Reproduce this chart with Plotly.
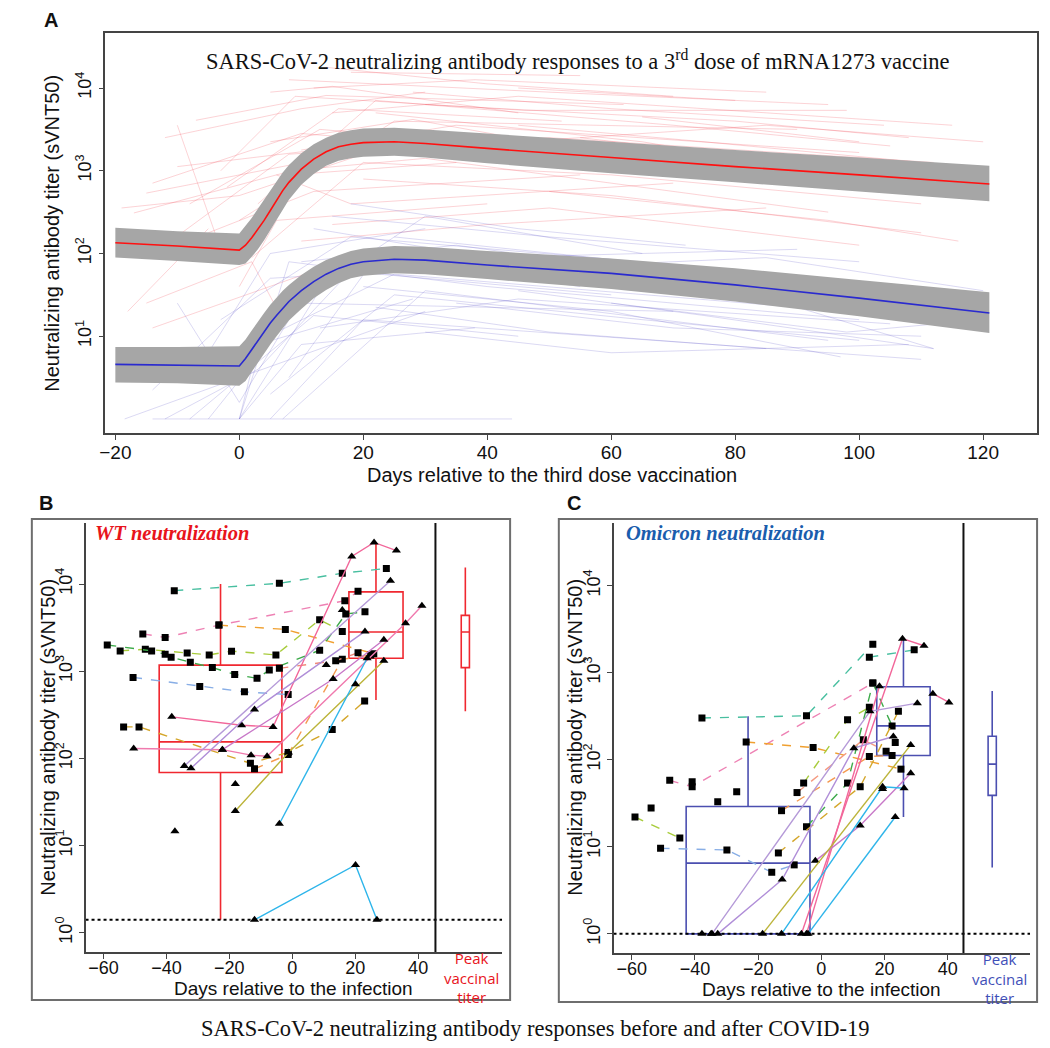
import numpy as np
import plotly.graph_objects as go

W, H = 1050, 1048

# ---------------- Panel A data (log10 titers) ----------------
fit_days = [-20, -10, 0, 1, 2, 3, 4, 5, 6, 7, 8, 10, 12, 14, 16, 18, 20, 25, 30, 40, 60, 80, 100, 121]
wt_fit_log = [2.13, 2.09, 2.04, 2.10, 2.19, 2.29, 2.40, 2.52, 2.64, 2.76, 2.86, 3.02, 3.14, 3.23, 3.29, 3.32, 3.34, 3.35, 3.33, 3.27, 3.16, 3.05, 2.95, 2.84]
wt_hi_log = [2.31, 2.27, 2.24, 2.33, 2.43, 2.54, 2.65, 2.77, 2.88, 2.98, 3.07, 3.21, 3.32, 3.40, 3.46, 3.49, 3.51, 3.52, 3.50, 3.45, 3.35, 3.25, 3.16, 3.06]
wt_lo_log = [1.95, 1.91, 1.86, 1.88, 1.96, 2.05, 2.16, 2.28, 2.40, 2.53, 2.65, 2.83, 2.96, 3.06, 3.12, 3.15, 3.17, 3.18, 3.16, 3.09, 2.97, 2.86, 2.75, 2.63]
om_fit_log = [0.66, 0.65, 0.64, 0.73, 0.84, 0.95, 1.06, 1.16, 1.25, 1.34, 1.42, 1.55, 1.66, 1.75, 1.82, 1.87, 1.90, 1.93, 1.92, 1.86, 1.76, 1.62, 1.46, 1.28]
om_hi_log = [0.87, 0.87, 0.88, 0.96, 1.07, 1.18, 1.28, 1.38, 1.47, 1.55, 1.62, 1.74, 1.84, 1.92, 1.98, 2.03, 2.06, 2.09, 2.08, 2.03, 1.94, 1.82, 1.68, 1.53]
om_lo_log = [0.44, 0.43, 0.40, 0.46, 0.57, 0.68, 0.80, 0.90, 1.00, 1.10, 1.19, 1.33, 1.46, 1.56, 1.64, 1.70, 1.73, 1.76, 1.75, 1.69, 1.57, 1.42, 1.24, 1.04]

# individual trajectories (day list, log10 titer list)
wt_traj_days = [
    [-15, 24, 80], [-14, 10, 60], [-7, 14, 62], [-10, -3], [-17, 6, 30], [5, 15, 45], [18, 55],
    [12, 38, 85], [-8, 13, 75], [-3, 9, 46, 98], [0, 25, 90], [2, 20, 60, 110], [-12, 8, 50, 112],
    [10, 35, 100], [3, 22, 70, 105], [15, 45, 115], [20, 60, 110], [8, 30, 95], [25, 75, 118],
    [-5, 12, 55], [30, 80, 108], [0, 6, 40], [-18, -5], [-15, 2, 7], [-14, 5, 20], [40, 90, 120],
    [15, 50, 100], [22, 65, 105], [5, 28, 70], [35, 85, 120], [-10, 18, 40], [45, 80],
    [55, 100], [-2, 16, 52], [10, 40, 85],
    [-19, 0, 20], [8, 50, 95], [14, 40, 70], [-12, 10, 30], [45, 75, 110], [28, 60, 104],
    [6, 18, 70], [50, 95, 116], [0, 8, 35], [65, 100]]
wt_traj_log = [
    [2.73, 3.30, 3.05], [2.85, 3.45, 3.15], [3.61, 3.91, 3.80], [3.55, 2.05], [2.49, 2.95, 3.40],
    [3.95, 4.02, 3.70], [4.19, 4.15], [4.00, 4.10, 3.95], [2.60, 3.50, 3.10], [3.00, 3.90, 3.73, 3.73],
    [2.40, 3.60, 3.50], [1.95, 3.10, 2.95, 2.60], [2.10, 3.20, 3.40, 3.10], [3.25, 3.55, 3.22],
    [2.60, 3.85, 3.55, 3.30], [3.70, 3.90, 3.55], [2.90, 2.70, 2.25], [3.00, 3.15, 2.50],
    [3.45, 3.00, 2.95], [2.25, 2.75, 2.95], [3.80, 3.60, 3.40], [1.60, 2.40, 2.60], [1.30, 2.30],
    [1.40, 1.90, 1.20], [1.10, 1.60, 2.00], [3.15, 3.00, 2.80], [2.35, 2.55, 2.10],
    [3.70, 3.35, 2.85], [3.35, 3.62, 3.05], [3.30, 3.55, 3.35], [3.05, 3.30, 3.10], [4.00, 3.85],
    [3.40, 3.00], [2.80, 3.75, 3.60], [2.15, 2.35, 2.55],
    [2.55, 2.70, 3.20], [4.10, 3.95, 3.80], [4.25, 4.05, 3.90], [3.40, 3.75, 3.95], [3.55, 3.35, 3.10],
    [3.95, 3.75, 3.55], [2.95, 2.60, 2.85], [2.75, 2.40, 2.15], [2.10, 2.95, 3.10], [3.65, 3.35]]
om_traj_days = [
    [-14, 44], [-18.5, 0, 30], [0, 15, 60], [0, 8, 40, 100], [-5, 10, 70], [5, 20, 110], [-14, 5, 50],
    [-10, 0, 12], [-3, 18, 80], [2, 25, 90, 112], [7, 30, 95], [13, 45, 105], [10, 35, 78],
    [15, 50, 100], [20, 60, 97], [-5, 5, 30], [25, 70, 115], [3, 30, 65], [35, 70, 110],
    [8, 22, 55], [-8, 12, 45], [40, 85, 120], [18, 45, 72], [0, 3, 28], [12, 40, 90], [30, 60, 108],
    [5, 25, 65, 100], [22, 50, 85], [45, 75, 112], [0, 10, 38], [-12, 3, 20], [60, 98, 120]]
om_traj_log = [
    [0.0, 0.0], [0.0, 0.5, 1.3], [0.0, 1.8, 1.5], [0.0, 1.9, 1.6, 1.2], [0.0, 1.4, 1.3],
    [0.0, 1.2, 0.72], [0.35, 1.7, 1.9], [1.4, 0.2, 1.7], [1.2, 2.2, 1.8], [0.9, 1.75, 1.35, 0.85],
    [0.0, 1.55, 0.95], [1.1, 1.45, 1.15], [1.9, 2.1, 1.65], [2.45, 2.2, 1.9], [1.6, 1.3, 0.75],
    [0.8, 2.0, 2.3], [2.2, 1.85, 1.55], [1.1, 2.45, 2.0], [1.4, 1.1, 1.0], [0.5, 1.95, 1.6],
    [0.0, 1.25, 1.0], [1.8, 1.95, 1.55], [2.6, 2.3, 2.1], [0.0, 0.9, 1.45], [2.3, 1.95, 2.05],
    [1.05, 0.8, 0.9],
    [0.3, 1.5, 1.2, 0.95], [1.35, 1.05, 0.85], [1.55, 1.25, 0.85], [0.0, 0.9, 1.1], [0.0, 0.6, 1.95],
    [1.4, 1.05, 1.2]]

# ---------------- Panel B data (WT, titers) ----------------
b_days = [
    [-37.5, -4.1, 15.9, 29.9], [-47.5, -40.4, -23.3, 16.7, 20.9], [-23.3, -2.2, 25.9],
    [-54.7, -46.7, -33.4, -26.4, -19.3, -5.2, 8.7, 15.9],
    [-58.8, -44.7, -40.4, -38.5, -32.4, -25.4, -18.3, -11.2, -7.3, 8.7, 17.0, 23.1],
    [-50.6, -29.4, -15.2, -1.3], [-53.6, -48.7, -13.3, -1.3, 12.7, 23.0], [-12.0, -1.3, 15.9, 24.9],
    [-4.1, 13.8, 20.9],
    [-38.3, -16.1, -6.1, 18.9, 26.0, 33.1], [-50.4, -22.2, -13.1, -8.0, 36.0, 41.2],
    [-34.3, 31.2], [-32.2, -12.0, 23.1], [-22.2, 13.0, 29.1], [-18.1, -1.2, 29.1],
    [-4.1, 23.8], [-12.0, 20.1, 26.9]]
b_titers = [
    [8400, 10200, 13300, 15100], [2680, 2440, 3380, 6430, 8250], [3380, 3020, 1590],
    [1710, 1790, 1620, 1540, 1700, 1540, 3890, 2860],
    [2000, 1710, 1570, 1450, 1270, 1100, 920, 830, 1030, 1740, 4540, 4800],
    [850, 670, 580, 540], [230, 230, 88, 117, 214, 455], [76, 111, 1370, 1540],
    [1080, 1320, 1630],
    [300, 240, 230, 20700, 30000, 24200], [130, 126, 109, 106, 3560, 5630],
    [82, 10900], [77, 363, 2860], [126, 815, 2300], [25, 117, 1320],
    [17.8, 1410], [1.41, 6.0, 1.41]]
b_colors = ["#48BFA0", "#EE82B4", "#F0A030", "#A8CC3C", "#3DAA4A", "#88AEE6", "#D4A62A", "#F59A50",
            "#F08878", "#F2679A", "#F07AAE", "#B59AD8", "#B08ED8", "#C878C8", "#BCB43A", "#2EB5EA", "#2EB5EA"]
b_dashed = [True] * 9 + [False] * 8
b_extra_tri_days = [-37.3, -18.1, 20.1, 10.8, 15.9]
b_extra_tri_titers = [14.6, 51, 710, 1180, 5030]
b_box_pos = [-22.8, 26.6]
b_box_width = [39.0, 17.2]
b_box_q1 = [69, 1410]
b_box_med = [155, 2820]
b_box_q3 = [1175, 8130]
b_box_lo = [1.41, 468]
b_box_hi = [10000, 30200]
b_peak = dict(pos=55, q1=1100, med=2820, q3=4370, lo=347, hi=15500)
b_lod = 1.41

# ---------------- Panel C data (Omicron, titers) ----------------
c_days = [
    [-37.8, -4.7, 16.3], [15.2, 29.4], [-48.0, -40.9, 16.3], [-23.8, -2.6, 25.2], [-59.0, -44.8],
    [-50.9, -29.9, -15.7, -8.6], [-5.6, 8.3, 15.2], [-4.7, 8.3, 16.3, 22.4], [-7.7, 13.3, 20.5],
    [-12.6, 15.2, 22.4], [-13.6, 12.3, 24.4],
    [-6.3, 25.7, 32.5], [-4.7, 18.4], [35.3, 40.4], [-34.6, 15.4, 30.4], [-32.8, -12.4, 10.3, 22.8],
    [-1.9, 12.3, 28.3], [-18.6, 28.3], [-12.6, 19.4, 26.2], [-4.2, 23.4]]
c_titers = [
    [302, 320, 2130], [1510, 1830], [58, 49, 760], [160, 138, 78], [22, 12.6],
    [9.6, 9.2, 5.1, 6.2], [54, 288, 400], [17, 54, 760, 245], [42, 170, 125],
    [26, 109, 112], [8.5, 49, 360],
    [1, 2460, 2040], [1, 700], [575, 456], [1, 360, 447], [1, 4.2, 136, 185],
    [6.9, 17.6, 70], [1, 148], [1, 49, 47], [1, 22]]
c_colors = ["#48BFA0", "#48BFA0", "#EE82B4", "#F0A030", "#A8CC3C", "#88AEE6", "#A8CC3C", "#3DAA4A",
            "#F59A80", "#F59A50", "#D4A62A",
            "#F2679A", "#F2679A", "#F2679A", "#B59AD8", "#B08ED8", "#C878C8", "#BCB43A", "#2EB5EA", "#2EB5EA"]
c_dashed = [True] * 11 + [False] * 9
c_extra_sq_days = [-53.9, -32.8, -26.8, 23.4, -40.9]
c_extra_sq_titers = [28, 33, 43, 158, 56]
c_extra_tri_days = [-37.8, -34.9, 19.4]
c_extra_tri_titers = [1, 1, 46]
c_box_pos = [-23.2, 26.0]
c_box_width = [39.2, 16.9]
c_box_q1 = [1.0, 112]
c_box_med = [6.5, 245]
c_box_q3 = [29, 690]
c_box_lo = [1.0, 22]
c_box_hi = [316, 2400]
c_peak = dict(pos=54.1, q1=39, med=89, q3=186, lo=5.8, hi=617)
c_lod = 1.0

# ---------------- helpers (layout only) ----------------
def px(x):
    return x / W

def py(y):
    return 1 - y / H

def join(days_list, vals_list):
    xs, ys = [], []
    for d, v in zip(days_list, vals_list):
        xs += list(d) + [None]
        ys += list(v) + [None]
    return xs, ys

fig = go.Figure()

# ---- Panel A ----
xs, ys = join(wt_traj_days, [[10 ** v for v in t] for t in wt_traj_log])
fig.add_trace(go.Scatter(x=xs, y=ys, mode="lines", line=dict(color="rgba(245,80,90,0.25)", width=1),
                         xaxis="x", yaxis="y", hoverinfo="skip", showlegend=False))
xs, ys = join(om_traj_days, [[10 ** v for v in t] for t in om_traj_log])
fig.add_trace(go.Scatter(x=xs, y=ys, mode="lines", line=dict(color="rgba(90,80,200,0.22)", width=1),
                         xaxis="x", yaxis="y", hoverinfo="skip", showlegend=False))

for lo, hi, mid, col in [(wt_lo_log, wt_hi_log, wt_fit_log, "#FF1010"),
                         (om_lo_log, om_hi_log, om_fit_log, "#2A2ACF")]:
    fig.add_trace(go.Scatter(x=fit_days, y=[10 ** v for v in lo], mode="lines", line=dict(width=0, color="#A6A6A6"),
                             xaxis="x", yaxis="y", showlegend=False, hoverinfo="skip"))
    fig.add_trace(go.Scatter(x=fit_days, y=[10 ** v for v in hi], mode="lines", line=dict(width=0, color="#A6A6A6"),
                             fill="tonexty", fillcolor="#A6A6A6", xaxis="x", yaxis="y", showlegend=False,
                             hoverinfo="skip"))
    fig.add_trace(go.Scatter(x=fit_days, y=[10 ** v for v in mid], mode="lines", line=dict(width=1.6, color=col),
                             xaxis="x", yaxis="y", showlegend=False))

# ---- Panels B & C ----
def add_panel(days, titers, colors, dashed, xa, ya, extra_sq, extra_tri):
    for d, t, c, ds in zip(days, titers, colors, dashed):
        fig.add_trace(go.Scatter(
            x=d, y=t, mode="lines+markers", xaxis=xa, yaxis=ya, showlegend=False,
            line=dict(color=c, width=1.4, dash="dash" if ds else "solid"),
            marker=dict(symbol="square" if ds else "triangle-up", size=7 if ds else 8, color="black")))
    if extra_sq is not None:
        fig.add_trace(go.Scatter(x=extra_sq[0], y=extra_sq[1], mode="markers", xaxis=xa, yaxis=ya,
                                 showlegend=False, marker=dict(symbol="square", size=7, color="black")))
    fig.add_trace(go.Scatter(x=extra_tri[0], y=extra_tri[1], mode="markers", xaxis=xa, yaxis=ya,
                             showlegend=False, marker=dict(symbol="triangle-up", size=8, color="black")))

def add_boxes(pos, width, q1, med, q3, lo, hi, peak, col, xa, ya):
    for i in range(len(pos)):
        fig.add_trace(go.Box(x=[pos[i]], q1=[q1[i]], median=[med[i]], q3=[q3[i]], lowerfence=[lo[i]],
                             upperfence=[hi[i]], width=width[i], xaxis=xa, yaxis=ya, showlegend=False,
                             line=dict(color=col, width=1.6), fillcolor="rgba(0,0,0,0)", whiskerwidth=0,
                             boxpoints=False))
    fig.add_trace(go.Box(x=[peak["pos"]], q1=[peak["q1"]], median=[peak["med"]], q3=[peak["q3"]],
                         lowerfence=[peak["lo"]], upperfence=[peak["hi"]], width=2.6, xaxis=xa, yaxis=ya,
                         showlegend=False, line=dict(color=col, width=1.6), fillcolor="rgba(0,0,0,0)",
                         whiskerwidth=0, boxpoints=False))

add_boxes(b_box_pos, b_box_width, b_box_q1, b_box_med, b_box_q3, b_box_lo, b_box_hi, b_peak, "#F02830", "x2", "y2")
add_panel(b_days, b_titers, b_colors, b_dashed, "x2", "y2", None, (b_extra_tri_days, b_extra_tri_titers))
add_boxes(c_box_pos, c_box_width, c_box_q1, c_box_med, c_box_q3, c_box_lo, c_box_hi, c_peak, "#4B4FB0", "x3", "y3")
add_panel(c_days, c_titers, c_colors, c_dashed, "x3", "y3", (c_extra_sq_days, c_extra_sq_titers),
          (c_extra_tri_days, c_extra_tri_titers))

# LOD dotted lines and vertical separators
for xa, ya, lod, xr, vx, yr in [("x2", "y2", b_lod, (-65.7, 66.7), 45.5, (-0.22, 4.70)),
                                ("x3", "y3", c_lod, (-65.8, 66.1), 45.0, (-0.22, 4.72))]:
    fig.add_trace(go.Scatter(x=list(xr), y=[lod, lod], mode="lines", xaxis=xa, yaxis=ya, showlegend=False,
                             line=dict(color="black", width=2, dash="dot"), hoverinfo="skip"))
    fig.add_trace(go.Scatter(x=[vx, vx], y=[10 ** yr[0], 10 ** yr[1]], mode="lines", xaxis=xa, yaxis=ya,
                             showlegend=False, line=dict(color="#111", width=2), hoverinfo="skip"))

ytv = [1, 10, 100, 1000, 10000]
ytt = ["10<sup>0</sup>", "10<sup>1</sup>", "10<sup>2</sup>", "10<sup>3</sup>", "10<sup>4</sup>"]

def xax(size, **kw):
    d = dict(showgrid=False, zeroline=False, showline=True, linecolor="#444", linewidth=1.5,
             ticks="outside", ticklen=5, tickcolor="#444",
             tickfont=dict(family="Liberation Sans, Arial", size=size, color="#111"))
    d.update(kw)
    return d

def yax(size, **kw):
    d = dict(type="log", showgrid=False, zeroline=False, showline=True, linecolor="#444", linewidth=1.5,
             ticks="outside", ticklen=5, tickcolor="#444", tickangle=-90,
             tickfont=dict(family="Liberation Sans, Arial", size=size, color="#111"),
             tickvals=ytv, ticktext=ytt)
    d.update(kw)
    return d

fig.update_layout(
    width=W, height=H, margin=dict(l=0, r=0, t=0, b=0),
    paper_bgcolor="white", plot_bgcolor="white", showlegend=False,
    xaxis=xax(19, domain=[px(100), px(1037)], range=[-21.6, 128.7], anchor="y",
              tickvals=[-20, 0, 20, 40, 60, 80, 100, 120], mirror=True, ticklabelstandoff=-4),
    yaxis=yax(18, domain=[py(433), py(33)], range=[-0.17, 4.665], anchor="x", mirror=True,
              tickvals=ytv[1:], ticktext=ytt[1:]),
    xaxis2=xax(18, domain=[px(80), px(499)], range=[-65.7, 66.7], anchor="y2",
               tickvals=[-60, -40, -20, 0, 20, 40], ticklabelstandoff=-6),
    yaxis2=yax(18, domain=[py(952), py(523)], range=[-0.22, 4.70], anchor="x2"),
    xaxis3=xax(18, domain=[px(611), px(1030)], range=[-65.8, 66.1], anchor="y3",
               tickvals=[-60, -40, -20, 0, 20, 40], ticklabelstandoff=-6),
    yaxis3=yax(18, domain=[py(953), py(523)], range=[-0.22, 4.72], anchor="x3"),
)

# outer panel frames
for x0, y0, x1, y1 in [(26, 519, 507, 1000), (556, 519, 1037, 1002)]:
    fig.add_shape(type="rect", xref="paper", yref="paper", x0=px(x0), x1=px(x1), y0=py(y1), y1=py(y0),
                  line=dict(color="#6E6E6E", width=2), fillcolor="rgba(0,0,0,0)", layer="below")

sans = "Liberation Sans, Arial"
serif = "Liberation Serif, Times New Roman"

def ann(text, x, y, size, color="#111", family=sans, angle=0, xanchor="center", bold=False, italic=False):
    t = text
    if bold:
        t = "<b>" + t + "</b>"
    if italic:
        t = "<i>" + t + "</i>"
    fig.add_annotation(text=t, x=px(x), y=py(y), xref="paper", yref="paper", showarrow=False,
                       font=dict(family=family, size=size, color=color), textangle=angle,
                       xanchor=xanchor, yanchor="middle")

ann("A", 45, 20, 20, bold=True)
ann("B", 40, 503, 20, bold=True)
ann("C", 571, 503, 20, bold=True)
ann("SARS-CoV-2 neutralizing antibody responses to a 3<sup>rd</sup> dose of mRNA1273 vaccine", 575, 60, 22.5,
    family=serif)
ann("Days relative to the third dose vaccination", 549, 475, 20)
ann("Neutralizing antibody titer (sVNT50)", 46, 233, 20, angle=-90)
ann("WT neutralization", 87, 533, 20.5, color="#E8141C", family=serif, xanchor="left", bold=True, italic=True)
ann("Omicron neutralization", 622, 533, 20.5, color="#1A5DAD", family=serif, xanchor="left", bold=True,
    italic=True)
ann("Days relative to the infection", 289, 988, 19)
ann("Days relative to the infection", 820, 989, 19)
ann("Neutralizing antibody titer (sVNT50)", 42, 737, 20, angle=-90)
ann("Neutralizing antibody titer (sVNT50)", 572, 737, 20, angle=-90)
ann("Peak<br>vaccinal<br>titer", 468, 977, 15, color="#E8141C", family="Open Sans, Liberation Sans")
ann("Peak<br>vaccinal<br>titer", 999, 978, 15, color="#3F4FB8", family="Open Sans, Liberation Sans")
ann("SARS-CoV-2 neutralizing antibody responses before and after COVID-19", 532, 1028, 22.5, family=serif)

fig.write_html("out.html", config={"displayModeBar": False},
               post_script="document.body.style.margin='0px';")
